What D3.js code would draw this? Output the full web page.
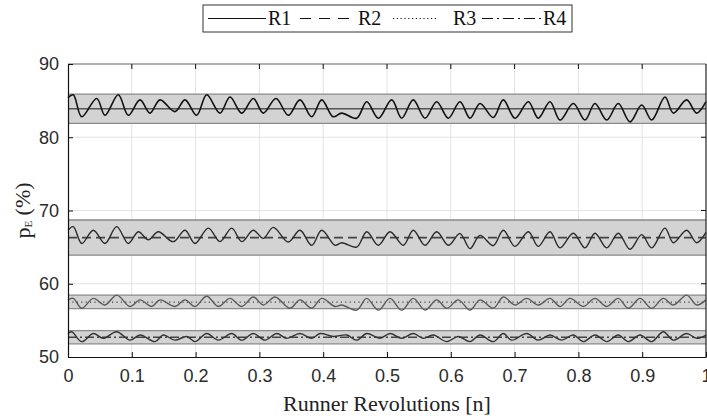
<!DOCTYPE html>
<html><head><meta charset="utf-8">
<script src="https://cdn.jsdelivr.net/npm/d3@7"></script>
<style>body{margin:0;background:#fff}svg{display:block}</style>
</head><body>
<svg id="c" width="707" height="418"></svg>
<script>
const xTicks = [0,0.1,0.2,0.3,0.4,0.5,0.6,0.7,0.8,0.9,1];
const xTickLabels = ["0","0.1","0.2","0.3","0.4","0.5","0.6","0.7","0.8","0.9","1"];
const yTicks = [50,60,70,80,90];
const seriesNames = ["R1","R2","R3","R4"];
const bandLow  = [81.9, 63.9, 56.6, 51.8];
const bandHigh = [85.9, 68.7, 58.45, 53.6];
const bandMean = [83.9, 66.3, 57.5, 52.7];

const r1 = [[0,85.4],[0.0083,85.8],[0.0215,82.8],[0.045,85.3],[0.058,83.0],[0.0788,85.8],[0.0945,83.0],[0.1129,85.1],[0.1285,83.3],[0.1442,85.1],[0.1677,83.5],[0.1834,85.1],[0.2017,83.0],[0.2174,85.8],[0.2382,83.3],[0.2539,85.5],[0.2723,83.3],[0.2904,85.3],[0.3061,83.3],[0.326,85.3],[0.3453,83.0],[0.3636,85.1],[0.382,82.8],[0.3977,85.1],[0.4154,82.8],[0.429,83.3],[0.4525,82.6],[0.4682,84.85],[0.4864,82.6],[0.5074,85.1],[0.523,82.6],[0.5412,85.1],[0.5596,82.6],[0.5779,84.85],[0.5961,82.6],[0.6144,84.85],[0.6301,82.6],[0.6458,84.6],[0.6666,82.7],[0.6823,85.1],[0.7006,82.6],[0.7215,84.85],[0.7371,82.6],[0.7555,84.85],[0.7712,82.35],[0.792,84.6],[0.8103,82.35],[0.826,84.6],[0.8444,82.35],[0.8625,84.6],[0.8809,82.1],[0.8992,84.4],[0.9149,82.35],[0.9357,85.5],[0.9488,83.3],[0.9697,85.1],[0.9854,83.3],[1,84.85]];

const r2 = [[0,67.3],[0.0083,67.8],[0.0215,65.5],[0.0397,67.3],[0.058,65.5],[0.0763,67.8],[0.0945,65.5],[0.1102,67.1],[0.1259,66.0],[0.1415,67.1],[0.165,65.75],[0.1834,67.3],[0.1991,65.5],[0.2199,67.6],[0.2382,65.75],[0.2566,67.6],[0.2723,65.75],[0.2904,67.3],[0.3061,66.2],[0.3218,67.7],[0.3453,65.7],[0.3636,67.3],[0.382,65.25],[0.3977,67.3],[0.4185,65.25],[0.429,65.6],[0.4525,65.0],[0.4682,67.1],[0.4864,65.25],[0.5047,67.1],[0.5256,65.25],[0.5412,67.3],[0.5596,65.25],[0.5779,67.1],[0.5961,65.25],[0.6144,66.85],[0.6301,64.8],[0.6458,66.6],[0.6666,65.2],[0.6823,67.3],[0.7006,65.1],[0.7215,67.1],[0.7371,65.1],[0.7555,67.1],[0.7712,64.9],[0.792,66.9],[0.8103,64.9],[0.826,66.9],[0.8444,64.9],[0.8625,66.9],[0.8809,64.7],[0.8992,66.7],[0.9149,64.9],[0.9357,67.6],[0.9488,65.6],[0.9697,67.3],[0.9854,65.6],[1,67.0]];

const r3 = [[0,57.8],[0.0083,58.0],[0.0215,56.65],[0.0397,58.0],[0.058,57.1],[0.0763,58.45],[0.0972,56.9],[0.1129,57.8],[0.1312,56.9],[0.1442,57.8],[0.1677,56.9],[0.1834,57.8],[0.1991,56.9],[0.2174,58.3],[0.2356,56.9],[0.2539,58.0],[0.2723,56.9],[0.2904,58.2],[0.3061,57.1],[0.3245,58.2],[0.348,56.65],[0.3636,57.8],[0.382,56.65],[0.3977,58.0],[0.4185,56.9],[0.429,57.1],[0.4525,56.4],[0.4682,58.0],[0.4864,56.4],[0.5047,58.0],[0.523,56.4],[0.5412,58.0],[0.5596,56.4],[0.5779,57.8],[0.5936,56.65],[0.6118,57.8],[0.6301,56.4],[0.6458,57.8],[0.6666,56.65],[0.6823,58.2],[0.7006,57.1],[0.719,58.0],[0.7371,57.1],[0.7555,58.0],[0.7712,56.9],[0.7868,58.0],[0.8077,56.9],[0.826,58.0],[0.8444,56.9],[0.8625,58.0],[0.8782,56.65],[0.8966,58.0],[0.9149,56.65],[0.9331,58.0],[0.9488,57.1],[0.9697,58.45],[0.9854,57.1],[1,57.8]];

const r4 = [[0,53.2],[0.0058,53.45],[0.0215,52.1],[0.0397,53.2],[0.0553,52.55],[0.0763,53.45],[0.0972,52.3],[0.1129,53.0],[0.1364,52.1],[0.1494,53.0],[0.1677,52.3],[0.186,52.8],[0.1991,52.1],[0.2174,53.2],[0.2356,52.3],[0.2566,53.2],[0.2723,52.3],[0.2904,53.2],[0.3088,52.3],[0.3271,53.2],[0.3428,52.55],[0.3636,53.2],[0.382,52.55],[0.395,53.2],[0.4158,52.8],[0.4368,53.0],[0.4525,52.3],[0.4682,53.2],[0.489,52.55],[0.5047,53.2],[0.523,52.55],[0.5412,53.2],[0.5569,52.55],[0.5726,53.0],[0.5936,52.1],[0.6118,52.8],[0.6301,52.1],[0.6458,53.0],[0.6666,52.1],[0.6823,53.2],[0.6954,52.3],[0.719,53.2],[0.7371,52.3],[0.7555,53.0],[0.7738,52.3],[0.792,53.0],[0.8077,52.1],[0.826,53.0],[0.8444,52.1],[0.8625,53.0],[0.8782,52.1],[0.8966,53.0],[0.9149,52.1],[0.9331,53.45],[0.9488,52.3],[0.9697,53.2],[0.9854,52.55],[1,53.0]];

const signals = [r1, r2, r3, r4];

const SANS = "'Liberation Sans', Arial, sans-serif";
const SERIF = "'Liberation Serif', 'Times New Roman', serif";

const M = {l:68, r:706, t:64, b:357};
const svg = d3.select("#c");
const x = d3.scaleLinear().domain([0,1]).range([M.l, M.r]);
const y = d3.scaleLinear().domain([50,90]).range([M.b, M.t]);

const meanDash = [null, "9,5", "1.2,3.2", "9,3,2,3"];
const legendDash = [null, "11,8", "1.2,2.6", "11,4,2,4"];
const sigColor = ["#111", "#2a2a2a", "#5a5a5a", "#333"];

// grid
const g = svg.append("g");
g.selectAll(".vg").data(xTicks.slice(1,-1)).join("line")
  .attr("x1", d=>x(d)).attr("x2", d=>x(d)).attr("y1", M.t).attr("y2", M.b)
  .attr("stroke", "#e3e3e3").attr("stroke-width", 1);
g.selectAll(".hg").data(yTicks.slice(1,-1)).join("line")
  .attr("y1", d=>y(d)).attr("y2", d=>y(d)).attr("x1", M.l).attr("x2", M.r)
  .attr("stroke", "#e3e3e3").attr("stroke-width", 1);

// bands
seriesNames.forEach((n,i)=>{
  g.append("rect").attr("x", x(0)).attr("width", x(1)-x(0))
    .attr("y", y(bandHigh[i])).attr("height", y(bandLow[i])-y(bandHigh[i]))
    .attr("fill", "#d3d3d3");
  [bandLow[i], bandHigh[i]].forEach(v=>{
    g.append("line").attr("x1", x(0)).attr("x2", x(1)).attr("y1", y(v)).attr("y2", y(v))
      .attr("stroke", "#8a8a8a").attr("stroke-width", 1.3);
  });
});

// mean lines
seriesNames.forEach((n,i)=>{
  const l = g.append("line").attr("x1", x(0)).attr("x2", x(1))
    .attr("y1", y(bandMean[i])).attr("y2", y(bandMean[i]))
    .attr("stroke", i===0 ? "#555" : "#444").attr("stroke-width", i===2?1.3:1.6);
  if (meanDash[i]) l.attr("stroke-dasharray", meanDash[i]);
});

// signals
const line = d3.line().x(d=>x(d[0])).y(d=>y(d[1])).curve(d3.curveCatmullRom.alpha(0.5));
signals.forEach((s,i)=>{
  g.append("path").attr("d", line(s)).attr("fill","none")
    .attr("stroke", sigColor[i]).attr("stroke-width", i===0?1.6:1.4);
});

// frame
svg.append("line").attr("x1",M.l).attr("x2",M.r).attr("y1",M.t).attr("y2",M.t).attr("stroke","#666").attr("stroke-width",1.2);
svg.append("line").attr("x1",M.r).attr("x2",M.r).attr("y1",M.t).attr("y2",M.b).attr("stroke","#222").attr("stroke-width",1.2);

const xAxis = d3.axisBottom(x).tickValues(xTicks).tickFormat((d,i)=>xTickLabels[i]).tickSizeInner(-5).tickSizeOuter(0).tickPadding(12);
const xa = svg.append("g").attr("transform",`translate(0,${M.b})`).call(xAxis);
const yAxis = d3.axisLeft(y).tickValues(yTicks).tickSizeInner(-5).tickSizeOuter(0).tickPadding(9);
const ya = svg.append("g").attr("transform",`translate(${M.l},0)`).call(yAxis);
[xa, ya].forEach(a=>{
  a.attr("font-family", null).attr("font-size", null);
  a.select(".domain").attr("stroke","#111").attr("stroke-width",1.2);
  a.selectAll(".tick line").attr("stroke","#111");
  a.selectAll("text").style("font-family",SANS).style("font-size","18px").attr("fill","#2b2b2b");
});
// top & right inward ticks
svg.selectAll(".tt").data(xTicks.slice(1,-1)).join("line")
  .attr("x1",d=>x(d)).attr("x2",d=>x(d)).attr("y1",M.t).attr("y2",M.t+5).attr("stroke","#111");
svg.selectAll(".rt").data(yTicks.slice(1,-1)).join("line")
  .attr("x1",M.r).attr("x2",M.r-5).attr("y1",d=>y(d)).attr("y2",d=>y(d)).attr("stroke","#111");

// axis labels
svg.append("text").attr("x", (M.l+M.r)/2).attr("y", 411).attr("text-anchor","middle")
  .style("font-family",SERIF).style("font-size","22px").attr("fill","#222")
  .text("Runner Revolutions [n]");
const yl = svg.append("text").attr("transform",`translate(30,${(M.t+M.b)/2}) rotate(-90)`)
  .attr("text-anchor","middle").style("font-family",SERIF).style("font-size","22px").attr("fill","#222");
yl.append("tspan").text("p");
yl.append("tspan").style("font-size","11px").attr("dy",2).text("E");
yl.append("tspan").attr("dy",-2).text(" (%)");

// legend
const lg = svg.append("g");
lg.append("rect").attr("x",203).attr("y",5).attr("width",369).attr("height",27)
  .attr("fill","#fff").attr("stroke","#333").attr("stroke-width",1);
const legX = [[208,266,268],[300,356,358],[393,436,453],[482,541,543]];
seriesNames.forEach((n,i)=>{
  const l = lg.append("line").attr("x1",legX[i][0]).attr("x2",legX[i][1]).attr("y1",18.5).attr("y2",18.5)
    .attr("stroke","#111").attr("stroke-width",1.2);
  if (legendDash[i]) l.attr("stroke-dasharray", legendDash[i]);
  lg.append("text").attr("x",legX[i][2]).attr("y",25)
    .style("font-family",SERIF).style("font-size","20px").attr("fill","#111").text(n);
});
</script>
</body></html>
